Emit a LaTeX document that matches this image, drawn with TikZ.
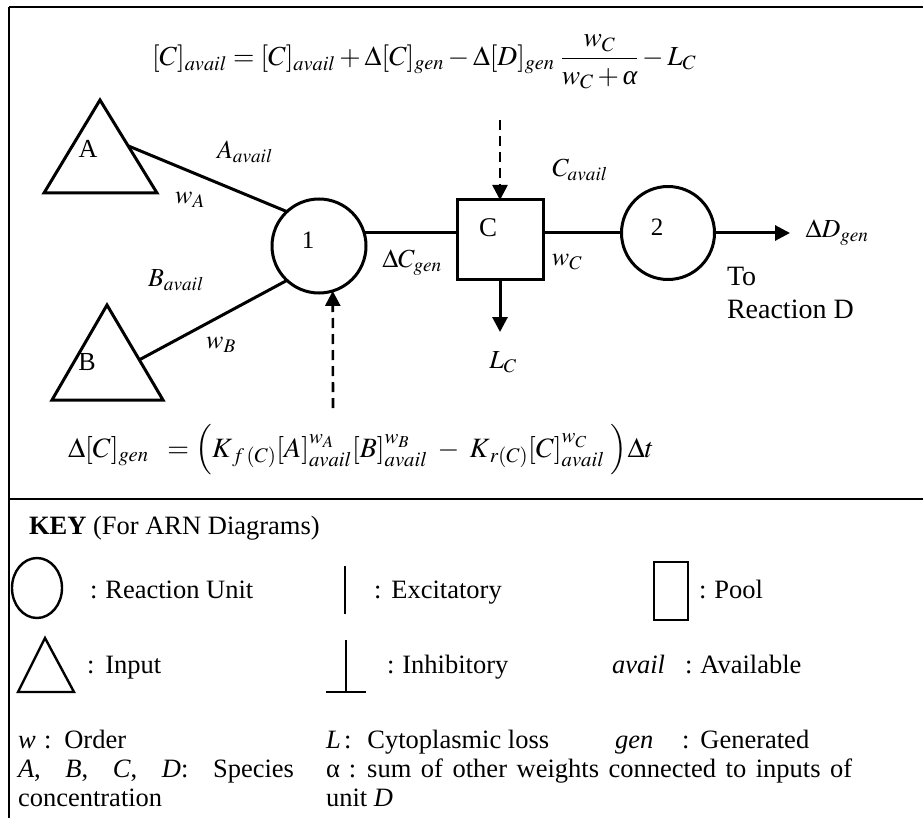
\documentclass[tikz,border=0pt]{standalone}
\usepackage{mathptmx}
\usepackage[no-math]{fontspec}
\setmainfont{Liberation Serif}
\usetikzlibrary{arrows.meta}

\begin{document}
\begin{tikzpicture}[x=1pt,y=-1pt,
  every node/.style={inner sep=0pt, outer sep=0pt},
  frame/.style={line width=2.4pt},
  link/.style={line width=3pt},
  unit/.style={circle, draw, line width=3pt, minimum size=94pt},
  pool/.style={rectangle, draw, line width=3pt, minimum width=86pt, minimum height=79pt},
  inputtri/.style={line width=3pt, line join=miter},
  arrowtip/.style={-{Triangle[length=15pt,width=15pt]}},
  dashedlink/.style={line width=2.6pt, dash pattern=on 10pt off 6pt},
  keyshape/.style={line width=2.4pt},
  txt/.style={font=\fontsize{26}{30}\selectfont},
  mth/.style={font=\fontsize{26}{30}\selectfont},
  eqn/.style={font=\fontsize{27.5}{32}\selectfont, anchor=west},
  keytxt/.style={font=\fontsize{26.5}{31}\selectfont, anchor=base west},
]
\useasboundingbox (0,0) rectangle (923,818);

% frame and divider
\draw[frame] (9,7) -- (923,7);
\draw[frame] (9,7) -- (9,818);
\draw[frame] (9,499) -- (923,499);

% inputs
\draw[inputtri] (100,100) -- (157,193) -- (44,193) -- cycle;
\node[txt] (alab) at (88,149) {A};
\coordinate (aout) at (128.5,146);
\draw[inputtri] (107,305) -- (163,400) -- (52,400) -- cycle;
\node[txt] (blab) at (87,362) {B};
\coordinate (bout) at (139,360);

% reaction units and pool
\node[unit] (r1) at (319,246) {};
\node[txt, font=\fontsize{25}{30}\selectfont] (r1lab) at (308,240) {1};
\node[pool] (poolC) at (500,239.5) {};
\node[txt, font=\fontsize{27}{30}\selectfont] (poolClab) at (488,228) {C};
\node[unit, minimum size=93pt] (r2) at (668,233) {};
\node[txt, font=\fontsize{25}{30}\selectfont] (r2lab) at (657,227) {2};

\coordinate (dout) at (790,233);
\coordinate (lossend) at (500,332);
\coordinate (ctop) at (500,120);
\coordinate (ubot) at (333,408);

% connectors
\draw[link] (aout) -- (r1.133);
\draw[link] (bout) -- (r1.227);
\draw[link] (r1.17) -- (r1.17 -| poolC.west);
\draw[link] (r2.west -| poolC.east) -- (r2.west);
\draw[link, arrowtip] (r2.east) -- (dout);
\draw[link, arrowtip] (poolC.south) -- (lossend);
\draw[dashedlink, arrowtip] (ctop) -- (poolC.north);
\draw[dashedlink, arrowtip] (ubot) -- (r1.-73);

% labels
\node[mth] (aavail) at (245,152) {$A_{avail}$};
\node[mth] (wa) at (190,200) {$w_A$};
\node[mth] (bavail) at (176,280) {$B_{avail}$};
\node[mth] (wb) at (221,345) {$w_B$};
\node[mth] (dcgen) at (412,263) {$\Delta C_{gen}$};
\node[mth] (cavail) at (580,170) {$C_{avail}$};
\node[mth] (wc) at (567,262) {$w_C$};
\node[mth] (lc) at (503,362) {$L_C$};
\node[mth] (ddgen) at (837,233) {$\Delta D_{gen}$};
\node[txt, font=\fontsize{28}{32}\selectfont, anchor=base west] (to) at (727,285) {To};
\node[txt, font=\fontsize{28}{32}\selectfont, anchor=base west] (reacd) at (727,318) {Reaction D};

% update equations
\node[eqn] (eqavail) at (152,62)
  {$\displaystyle [C]_{avail} = [C]_{avail} + \Delta[C]_{gen} - \Delta[D]_{gen}\;\frac{\;w_C\;}{w_C+\textit{α}} - L_C$};
\node[eqn, font=\fontsize{28}{32}\selectfont] (eqgen) at (68,450)
  {$\Delta[C]_{gen}\;\; = \Bigl(K_{\,f\,(C)}[A]^{w_A}_{avail}[B]^{w_B}_{avail} \;-\; K_{\,r(C)}[C]^{w_C}_{avail}\;\Bigr)\Delta t$};

% key
\node[keytxt] (keyhead) at (29,534) {\textbf{KEY} (For ARN Diagrams)};
\draw[keyshape] (37,588) ellipse [x radius=25, y radius=30];
\node[keytxt] (kunit) at (90,598) {:\hspace{8pt}Reaction Unit};
\draw[keyshape] (345,566) -- (345,614);
\node[keytxt] (kexc) at (374,598) {:\hspace{10pt}Excitatory};
\draw[keyshape] (654,562) rectangle (688,620);
\node[keytxt] (kpool) at (699,598) {:\hspace{8pt}Pool};
\draw[keyshape, line join=miter] (45,638) -- (74,692) -- (18,692) -- cycle;
\node[keytxt] (kinput) at (87,673) {:\hspace{11pt}Input};
\draw[keyshape] (346,640) -- (346,692);
\draw[keyshape] (326,692) -- (366,692);
\node[keytxt] (kinh) at (387,673) {:\hspace{8pt}Inhibitory};
\node[keytxt] (kavail) at (612,673) {\makebox[73pt][l]{\textit{avail}}:\hspace{8pt}Available};
\node[keytxt] (kw) at (18,748) {\makebox[26pt][l]{\textit{w}}:\hspace{13pt}Order};
\node[keytxt] (kl) at (326,748) {\makebox[18pt][l]{\textit{L}}:\hspace{16pt}Cytoplasmic loss};
\node[keytxt] (kgen) at (615,748) {\makebox[67pt][l]{\textit{gen}}:\hspace{11pt}Generated};
\node[keytxt] (kspec) at (18,777) {\makebox[276pt][s]{\textit{A}, \textit{B}, \textit{C}, \textit{D}: Species}};
\node[keytxt] (kalpha) at (326,777) {α\hspace{9pt}:\hspace{11pt}\makebox[485pt][s]{sum of other weights connected to inputs of}};
\node[keytxt] (kconc) at (18,806) {concentration};
\node[keytxt] (kunitd) at (326,806) {unit \textit{D}};
\end{tikzpicture}
\end{document}
